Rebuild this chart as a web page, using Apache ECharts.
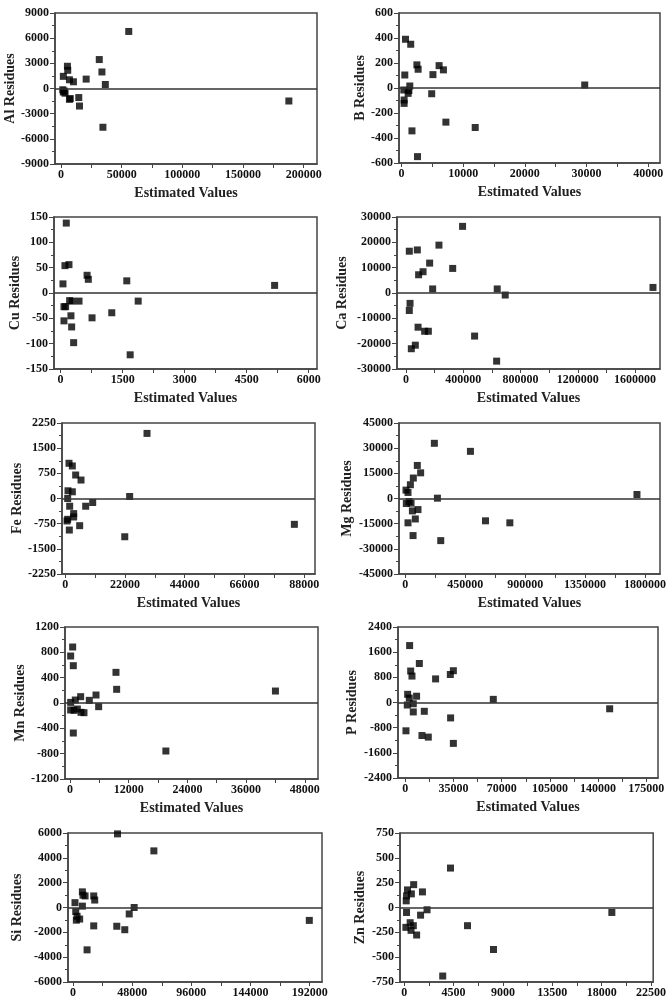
<!DOCTYPE html>
<html>
<head>
<meta charset="utf-8">
<script src="https://cdn.jsdelivr.net/npm/echarts@6/dist/echarts.min.js"></script>
<style>
html, body { margin: 0; padding: 0; background: #fff; }
#main { width: 669px; height: 999px; }
</style>
</head>
<body>
<div id="main"></div>
<script>
// residues vs estimated values, one array per element
var alData = [[55800,6800],[31500,3450],[33700,1970],[36500,480],[5250,2650],[5500,2170],[1900,1450],[6900,1040],[10200,800],[20700,1120],[1400,-150],[1900,-420],[3300,-560],[2600,-300],[6900,-1290],[7600,-1200],[14600,-1080],[15200,-2090],[34500,-4620],[187800,-1490]];
var bData = [[650,390],[1500,350],[540,104],[2500,185],[2700,150],[5100,107],[6100,179],[6800,145],[29700,24],[380,-16],[1200,-21],[1350,16],[1080,-43],[430,-96],[430,-123],[4900,-46],[1700,-343],[7200,-273],[11950,-316],[2600,-549]];
var cuData = [[137,138],[105,54],[202,56],[57,18],[640,35],[670,27],[1600,24],[5175,15],[81,-27],[121,-27],[218,-15],[283,-16],[445,-16],[250,-45],[81,-55],[267,-67],[315,-98],[760,-49],[1237,-39],[1876,-16],[1682,-122]];
var caData = [[23000,16500],[79000,17000],[230000,18900],[395000,26300],[165000,11800],[119000,8400],[88000,7200],[326000,9700],[186000,1600],[637000,1600],[693000,-800],[1725000,2200],[28000,-4100],[23000,-6900],[84000,-13500],[130000,-15100],[156000,-15100],[65000,-20600],[37000,-22000],[479000,-17000],[633000,-26900]];
var feData = [[30100,1940],[1350,1050],[2580,970],[3810,700],[5780,550],[980,230],[2580,200],[860,0],[1600,-230],[7500,-230],[10080,-120],[3070,-450],[3070,-550],[860,-620],[615,-670],[5280,-810],[1470,-940],[23700,60],[21900,-1140],[84400,-770]];
var mgData = [[218000,32900],[489000,28100],[90000,19700],[115000,15300],[60000,12200],[38000,8200],[5000,5000],[20000,3600],[7500,-3000],[28000,-1800],[43000,-2800],[53000,-7400],[95000,-6600],[75000,-12200],[20000,-14500],[58000,-22100],[241000,200],[266000,-25100],[602000,-13300],[785000,-14500],[1740000,2400]];
var mnData = [[545,884],[136,742],[680,589],[9400,484],[9540,216],[42000,189],[2180,100],[3950,42],[5320,126],[1090,47],[136,10],[5860,-58],[136,-110],[818,-116],[1500,-95],[2250,-147],[2860,-153],[680,-474],[19600,-758]];
var pData = [[3150,1810],[10200,1240],[3900,1000],[4850,840],[34900,1010],[32700,890],[22000,750],[1700,260],[2900,140],[8200,200],[1450,-80],[5800,-40],[5800,-300],[13800,-280],[63900,100],[32900,-490],[148400,-200],[480,-900],[12100,-1050],[16700,-1100],[34900,-1300]];
var siData = [[36100,5930],[65600,4560],[7600,1260],[8100,990],[9800,930],[16800,930],[17600,600],[1600,390],[7600,110],[49600,0],[2200,-330],[3300,-710],[2700,-1020],[5400,-930],[45600,-520],[16800,-1480],[35500,-1510],[42000,-1790],[11400,-3410],[191700,-1040]];
var znData = [[4220,397],[860,230],[300,177],[1660,157],[650,137],[210,117],[180,67],[2080,-23],[1490,-77],[210,-50],[150,-200],[540,-153],[830,-183],[620,-230],[1130,-277],[5770,-183],[8140,-423],[3510,-690],[18930,-50]];

// x tick labels
var alXTicks = [0, 50000, 100000, 150000, 200000];
var bXTicks = [0, 10000, 20000, 30000, 40000];
var cuXTicks = [0, 1500, 3000, 4500, 6000];
var caXTicks = [0, 400000, 800000, 1200000, 1600000];
var feXTicks = [0, 22000, 44000, 66000, 88000];
var mgXTicks = [0, 450000, 900000, 1350000, 1800000];
var mnXTicks = [0, 12000, 24000, 36000, 48000];
var pXTicks = [0, 35000, 70000, 105000, 140000, 175000];
var siXTicks = [0, 48000, 96000, 144000, 192000];
var znXTicks = [0, 4500, 9000, 13500, 18000, 22500];

// y range (symmetric) and step
var yLimits = [9000, 600, 150, 30000, 2250, 45000, 1200, 2400, 6000, 750];
var ySteps = [3000, 200, 50, 10000, 750, 15000, 400, 800, 2000, 250];
var yNames = ['Al Residues', 'B Residues', 'Cu Residues', 'Ca Residues', 'Fe Residues',
              'Mg Residues', 'Mn Residues', 'P Residues', 'Si Residues', 'Zn Residues'];

var allData = [alData, bData, cuData, caData, feData, mgData, mnData, pData, siData, znData];
var allXTicks = [alXTicks, bXTicks, cuXTicks, caXTicks, feXTicks, mgXTicks, mnXTicks, pXTicks, siXTicks, znXTicks];

// layout: [left, top, width, height, xMin, xMax, yNameGap]
var layout = [
  [55, 13, 262, 151, -5000, 211000, 35],
  [399, 13, 261, 150, -400, 41900, 32],
  [54, 217, 263, 152, -160, 6200, 30],
  [397, 217, 263, 152, -63000, 1774000, 48],
  [62, 423, 253, 151, -1230, 92000, 38],
  [399, 423, 261, 151, -47600, 1913000, 45],
  [65, 627, 253, 152, -1020, 50700, 38],
  [398, 627, 260, 151, -5300, 183500, 39],
  [68, 833, 254, 150, -4070, 202000, 44],
  [400, 833, 259, 150, -386, 22700, 33]
];

var font = 'Liberation Serif';
var lineColor = '#444';
var plain = function (v) { return String(v); };

var grids = [], xAxes = [], yAxes = [], series = [];

for (var i = 0; i < 10; i++) {
  var L = layout[i];
  var ticks = allXTicks[i];
  var tickAll = ticks.slice();
  var half = (ticks[1] - ticks[0]) / 2;
  for (var k = 0; k < ticks.length; k++) {
    if (ticks[k] + half < L[5]) tickAll.push(ticks[k] + half);
  }

  grids.push({
    left: L[0], top: L[1], width: L[2], height: L[3],
    show: true, borderColor: lineColor, borderWidth: 1.5, backgroundColor: 'transparent'
  });

  xAxes.push({
    type: 'value', gridIndex: i, min: L[4], max: L[5],
    name: i < 8 ? 'Estimated Values' : '',
    nameLocation: 'middle', nameGap: 22,
    nameTextStyle: { fontFamily: font, fontWeight: 'bold', fontSize: 14, color: '#222' },
    axisLine: { show: true, onZero: false, lineStyle: { color: lineColor, width: 1.5 } },
    axisTick: { show: true, inside: false, length: 4, customValues: tickAll, lineStyle: { color: lineColor } },
    axisLabel: { customValues: ticks, formatter: plain, margin: 5, fontFamily: font, fontWeight: 'bold', fontSize: 12, color: '#111' },
    splitLine: { show: false }
  });

  yAxes.push({
    type: 'value', gridIndex: i, min: -yLimits[i], max: yLimits[i], interval: ySteps[i],
    name: yNames[i], nameLocation: 'middle', nameGap: L[6],
    nameTextStyle: { fontFamily: font, fontWeight: 'bold', fontSize: 14, color: '#222' },
    axisLine: { show: true, onZero: false, lineStyle: { color: lineColor, width: 1.5 } },
    axisTick: { show: true, inside: false, length: 5, lineStyle: { color: lineColor } },
    minorTick: { show: true, splitNumber: 2, length: 3, lineStyle: { color: lineColor } },
    axisLabel: { formatter: plain, margin: 6, fontFamily: font, fontWeight: 'bold', fontSize: 12, color: '#111' },
    splitLine: { show: false }
  });

  series.push({
    type: 'scatter', xAxisIndex: i, yAxisIndex: i,
    data: allData[i], symbol: 'rect', symbolSize: 7,
    itemStyle: { color: '#000' },
    markLine: {
      silent: true, symbol: 'none', label: { show: false },
      lineStyle: { color: '#333', width: 1.5, type: 'solid' },
      data: [{ yAxis: 0 }]
    }
  });
}

var chart = echarts.init(document.getElementById('main'));
chart.setOption({
  animation: false,
  backgroundColor: '#fff',
  grid: grids,
  xAxis: xAxes,
  yAxis: yAxes,
  series: series
});
</script>
</body>
</html>
